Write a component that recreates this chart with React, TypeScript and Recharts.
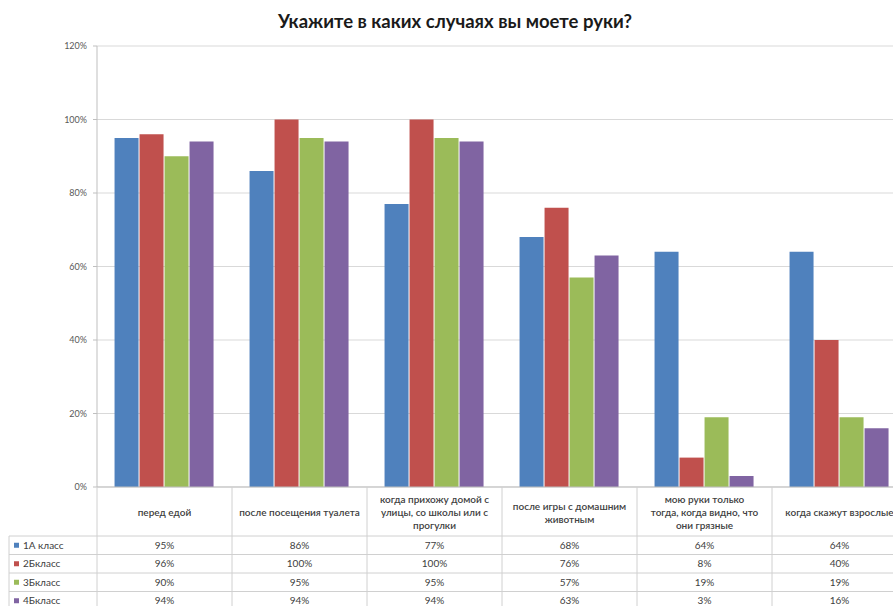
import { BarChart, Bar, XAxis, YAxis, CartesianGrid } from "recharts";

const categories = [
  "перед едой",
  "после посещения туалета",
  "когда прихожу домой с улицы, со школы или с прогулки",
  "после игры с домашним животным",
  "мою руки только тогда, когда видно, что они грязные",
  "когда скажут взрослые",
];

// how the labels break inside the table header
const categoryLines = [
  ["перед едой"],
  ["после посещения туалета"],
  ["когда прихожу домой с", "улицы, со школы или с", "прогулки"],
  ["после игры с домашним", "животным"],
  ["мою руки только", "тогда, когда видно, что", "они грязные"],
  ["когда скажут взрослые"],
];

const seriesNames = ["1А класс", "2Бкласс", "3Бкласс", "4Бкласс"];
const class1A = [95, 86, 77, 68, 64, 64];
const class2B = [96, 100, 100, 76, 8, 40];
const class3B = [90, 95, 95, 57, 19, 19];
const class4B = [94, 94, 94, 63, 3, 16];
const yTicks = [0, 20, 40, 60, 80, 100, 120];

const seriesValues = [class1A, class2B, class3B, class4B];
const colors = ["#4F81BD", "#C0504D", "#9BBB59", "#8064A2"];

const data = categories.map((name, i) => ({
  name,
  s0: class1A[i],
  s1: class2B[i],
  s2: class3B[i],
  s3: class4B[i],
}));

const FONT = "Lato, 'Open Sans', sans-serif";
const CHART_W = 920;
const CHART_H = 620;
const PLOT_LEFT = 97;
const PLOT_RIGHT = 907;
const PLOT_BOTTOM = 487;
const HEADER_BOTTOM = 536;
const ROW_H = 18.5;
const LINE = "#d0d0d0";
const TEXT = "#404040";

const bandW = (PLOT_RIGHT - PLOT_LEFT) / categories.length;

function TableTick(props: any) {
  const { x, payload } = props;
  const i = payload.index;
  const lines = categoryLines[i];
  const x0 = x - bandW / 2;
  const x1 = x + bandW / 2;
  const headerMid = (PLOT_BOTTOM + HEADER_BOTTOM) / 2 + 1;
  const firstY = headerMid - ((lines.length - 1) * 13) / 2;
  return (
    <g>
      <line x1={x1} y1={PLOT_BOTTOM} x2={x1} y2={CHART_H} stroke={LINE} />
      {i === 0 && (
        <g>
          <line x1={x0} y1={PLOT_BOTTOM} x2={x0} y2={CHART_H} stroke={LINE} />
          <line x1={9} y1={HEADER_BOTTOM} x2={9} y2={CHART_H} stroke={LINE} />
          {seriesNames.map((s, r) => {
            const top = HEADER_BOTTOM + r * ROW_H;
            return (
              <g key={s}>
                <line x1={9} y1={top} x2={x0} y2={top} stroke={LINE} />
                <rect x={14} y={top + ROW_H / 2 - 2.5} width={5} height={5} fill={colors[r]} />
                <text x={23} y={top + ROW_H / 2 + 3.5} fontSize={10} fill={TEXT} fontFamily={FONT}>
                  {s}
                </text>
              </g>
            );
          })}
          <line x1={9} y1={HEADER_BOTTOM + 4 * ROW_H} x2={x0} y2={HEADER_BOTTOM + 4 * ROW_H} stroke={LINE} />
        </g>
      )}
      {lines.map((l, k) => (
        <text
          key={k}
          x={x}
          y={firstY + k * 13 + 3.5}
          textAnchor="middle"
          fontSize={10}
          fontWeight={600}
          fill={TEXT}
          fontFamily={FONT}
        >
          {l}
        </text>
      ))}
      {seriesValues.map((vals, r) => {
        const top = HEADER_BOTTOM + r * ROW_H;
        return (
          <g key={r}>
            <line x1={x0} y1={top} x2={x1} y2={top} stroke={LINE} />
            <text
              x={x}
              y={top + ROW_H / 2 + 3.5}
              textAnchor="middle"
              fontSize={10}
              fill={TEXT}
              fontFamily={FONT}
            >
              {vals[i]}%
            </text>
          </g>
        );
      })}
      <line x1={x0} y1={HEADER_BOTTOM + 4 * ROW_H} x2={x1} y2={HEADER_BOTTOM + 4 * ROW_H} stroke={LINE} />
    </g>
  );
}

export default function App() {
  return (
    <div
      style={{
        position: "fixed",
        left: 0,
        top: 0,
        width: 893,
        height: 606,
        overflow: "hidden",
        background: "#fff",
      }}
    >
      <div
        style={{
          position: "absolute",
          left: 0,
          width: 910,
          top: 10,
          textAlign: "center",
          fontFamily: FONT,
          fontWeight: 700,
          fontSize: 18.5,
          color: "#1a1a1a",
        }}
      >
        Укажите в каких случаях вы моете руки?
      </div>
      <div style={{ position: "absolute", left: 0, top: 0 }}>
        <BarChart
          width={CHART_W}
          height={CHART_H}
          data={data}
          margin={{ top: 46, right: CHART_W - PLOT_RIGHT, left: 0, bottom: 0 }}
          barCategoryGap="13%"
          barGap={1}
        >
          <CartesianGrid vertical={false} stroke="#d9d9d9" />
          <YAxis
            width={PLOT_LEFT}
            domain={[0, 120]}
            ticks={yTicks}
            tickFormatter={(v) => `${v}%`}
            tick={{ fontSize: 9, fill: "#595959", fontFamily: FONT }}
            tickSize={4}
            tickMargin={6}
            stroke="#bfbfbf"
            interval={0}
          />
          <XAxis
            dataKey="name"
            height={CHART_H - PLOT_BOTTOM}
            interval={0}
            tickLine={false}
            tickSize={0}
            stroke="#bfbfbf"
            tick={<TableTick />}
          />
          {seriesNames.map((s, r) => (
            <Bar key={s} dataKey={`s${r}`} name={s} fill={colors[r]} isAnimationActive={false} />
          ))}
        </BarChart>
      </div>
    </div>
  );
}
